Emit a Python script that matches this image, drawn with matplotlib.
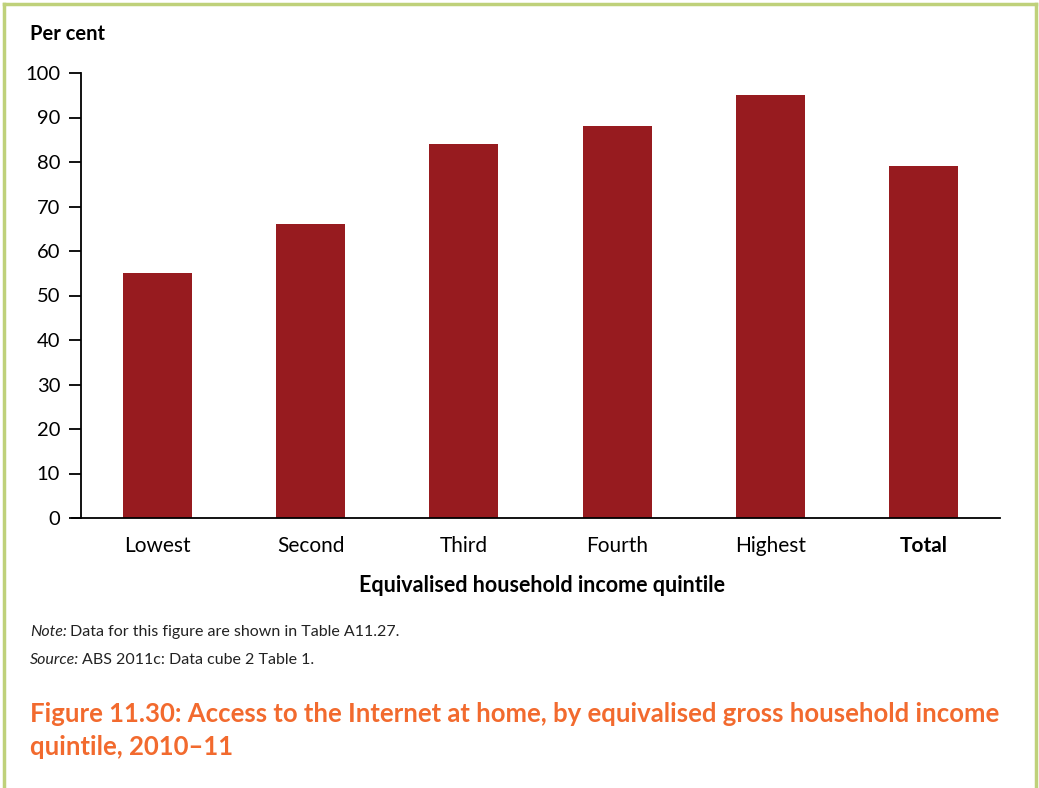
import matplotlib
matplotlib.use("Agg")
import matplotlib.pyplot as plt
from matplotlib.lines import Line2D

categories = ["Lowest", "Second", "Third", "Fourth", "Highest", "Total"]
values = [55, 66, 84, 88, 95, 79]
yticks = [0, 10, 20, 30, 40, 50, 60, 70, 80, 90, 100]

BAR = "#971B1F"
ORANGE = "#F26A2E"
GREEN = "#BFD17A"
FONT = ["Lato", "DejaVu Sans"]

plt.rcParams["font.family"] = FONT

fig = plt.figure(figsize=(10.39, 7.88), dpi=100)
W, H = 1039, 788
ax = fig.add_axes([81 / W, 1 - 518 / H, (1000 - 81) / W, (518 - 73) / H])

x = range(len(categories))
ax.bar(x, values, width=0.45, color=BAR, zorder=2)
ax.set_xlim(-0.5, len(categories) - 0.5)
ax.set_ylim(0, 100)
ax.set_yticks(yticks)
ax.set_yticklabels([str(t) for t in yticks], fontsize=14.5)
ax.set_xticks(list(x))
ax.set_xticklabels(categories, fontsize=15)
ax.get_xticklabels()[-1].set_fontweight("bold")
ax.tick_params(axis="y", direction="out", length=9, width=1.3, pad=6)
ax.tick_params(axis="x", length=0, pad=13)
for s in ["top", "right"]:
    ax.spines[s].set_visible(False)
ax.spines["left"].set_linewidth(1.3)
ax.spines["bottom"].set_linewidth(1.3)
ax.spines["bottom"].set_bounds(-0.5 - 9 / 153, len(categories) - 0.5)

fig.text(30 / W, 1 - 34 / H, "Per cent", fontsize=14.5, fontweight="bold",
         va="center", ha="left")
fig.text(542 / W, 1 - 586 / H, "Equivalised household income quintile",
         fontsize=15.5, fontweight="bold", va="center", ha="center")

renderer = fig.canvas.get_renderer()


def labelled_line(y, label, body):
    lab = fig.text(30 / W, 1 - y / H, label, fontsize=11.5, style="italic",
                   va="center", ha="left", color="#222222")
    ext = lab.get_window_extent(renderer)
    fig.text((ext.x1 + 3) / W, 1 - y / H, body, fontsize=11.5,
             va="center", ha="left", color="#222222")


labelled_line(632, "Note:", "Data for this figure are shown in Table A11.27.")
labelled_line(660, "Source:", "ABS 2011c: Data cube 2 Table 1.")

fig.text(30 / W, 1 - 714 / H,
         "Figure 11.30: Access to the Internet at home, by equivalised gross household income",
         fontsize=18.5, fontweight="bold", color=ORANGE, va="center", ha="left")
fig.text(30 / W, 1 - 747 / H, "quintile, 2010\u201311",
         fontsize=18.5, fontweight="bold", color=ORANGE, va="center", ha="left")

# Green frame round the figure (open at the bottom)
for xs, ys in [([4, 4], [788, 4]), ([4, 1036], [4, 4]), ([1036, 1036], [4, 788])]:
    fig.add_artist(Line2D([v / W for v in xs], [1 - v / H for v in ys],
                          color=GREEN, linewidth=2.5, transform=fig.transFigure))

fig.savefig("out.png", dpi=100, facecolor="white")
